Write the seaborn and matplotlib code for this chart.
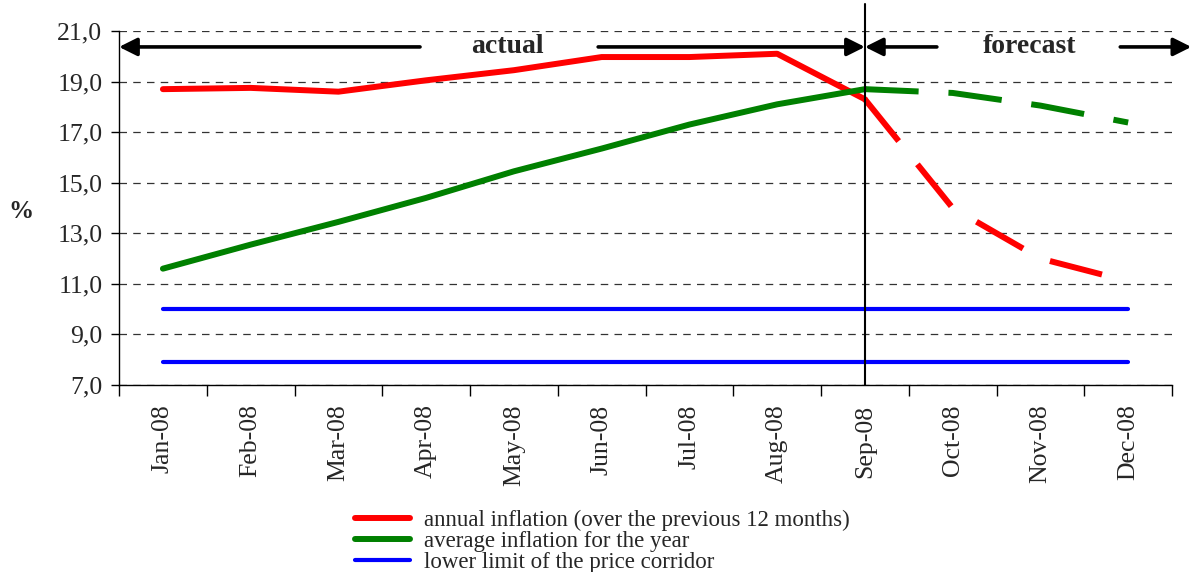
import matplotlib
matplotlib.use("Agg")
import matplotlib.pyplot as plt
from matplotlib.ticker import FuncFormatter, FixedLocator
import seaborn as sns
import pandas as pd
import numpy as np

months = ["Jan-08", "Feb-08", "Mar-08", "Apr-08", "May-08", "Jun-08",
          "Jul-08", "Aug-08", "Sep-08", "Oct-08", "Nov-08", "Dec-08"]
annual_inflation = [18.7, 18.75, 18.6, 19.05, 19.45, 19.97, 19.97, 20.1, 18.3, 14.0, 12.0, 11.1]
average_inflation = [11.6, 12.55, 13.45, 14.4, 15.45, 16.35, 17.3, 18.1, 18.7, 18.55, 18.05, 17.38]
corridor_low = [10.0] * 12
corridor_low2 = [7.9] * 12
last_actual = 8  # index of Sep-08, the last reported month

sns.set_theme(style="white")
plt.rcParams["font.family"] = ["Liberation Serif", "DejaVu Serif"]

df = pd.DataFrame({"pos": np.arange(len(months)), "month": months,
                   "annual": annual_inflation, "average": average_inflation,
                   "low": corridor_low, "low2": corridor_low2})
actual = df[df.pos <= last_actual]
fcst = df[df.pos >= last_actual]

fig = plt.figure(figsize=(11.94, 5.72), dpi=100)
ax = fig.add_axes([0.0997, 0.327, 0.8819, 0.6188])

RED, GREEN, BLUE = "#ff0000", "#008000", "#0000ff"
lw = 4.3
dash = (9, 5)
FS = 18.5

sns.lineplot(data=df, x="pos", y="low", ax=ax, color=BLUE, lw=3.0,
             solid_capstyle="round", label="lower limit of the price corridor")
sns.lineplot(data=df, x="pos", y="low2", ax=ax, color=BLUE, lw=3.0,
             solid_capstyle="round", label="_nolegend_")
sns.lineplot(data=actual, x="pos", y="annual", ax=ax, color=RED, lw=lw,
             solid_capstyle="round", label="annual inflation (over the previous 12 months)")
sns.lineplot(data=actual, x="pos", y="average", ax=ax, color=GREEN, lw=lw,
             solid_capstyle="round", label="average inflation for the year")
sns.lineplot(data=fcst, x="pos", y="annual", ax=ax, color=RED, lw=lw, label="_nolegend_")
ax.lines[-1].set_dashes(dash)
ax.lines[-1].set_dash_capstyle("butt")
sns.lineplot(data=fcst, x="pos", y="average", ax=ax, color=GREEN, lw=lw, label="_nolegend_")
ax.lines[-1].set_dashes(dash)
ax.lines[-1].set_dash_capstyle("butt")

ax.set_xlim(-0.5, len(months) - 0.5)
ax.set_ylim(7, 21)
ax.set_yticks(np.arange(7, 21.1, 2))
ax.yaxis.set_major_formatter(FuncFormatter(lambda v, p: f"{v:.1f}".replace(".", ",")))
ax.set_xticks(np.arange(len(months)))
ax.set_xticklabels(months, rotation=90, fontsize=FS)
ax.xaxis.set_minor_locator(FixedLocator(np.arange(-0.5, len(months), 1)))
ax.tick_params(axis="x", which="major", length=0, pad=14)
ax.tick_params(axis="x", which="minor", length=8, width=1, color="black", direction="out")
ax.tick_params(axis="y", length=6, width=1, color="black", direction="out", labelsize=FS, pad=6)
ax.tick_params(axis="y", which="major", left=True)
ax.tick_params(axis="x", which="minor", bottom=True)
ax.set_xlabel("")
ax.set_ylabel("%", fontsize=18, fontweight="bold", rotation=0, ha="center", va="center")
ax.yaxis.set_label_coords(-0.093, 0.49)

for s in ["top", "right"]:
    ax.spines[s].set_visible(False)
for s in ["left", "bottom"]:
    ax.spines[s].set_color("black")
    ax.spines[s].set_linewidth(1)

ax.grid(axis="y", color="#333333", linestyle=(0, (6, 5)), linewidth=0.9)
ax.set_axisbelow(True)

# boundary between reported and projected months
ax.plot([last_actual, last_actual], [7, 22.05], color="black", lw=1.5, clip_on=False, zorder=5)

# period arrows
ya = 20.37
ap = dict(arrowstyle="-|>,head_length=0.9,head_width=0.45", color="black", lw=2.6,
          shrinkA=0, shrinkB=0)
ax.annotate("", xy=(-0.5, ya), xytext=(2.93, ya), arrowprops=ap, annotation_clip=False)
ax.annotate("", xy=(last_actual, ya), xytext=(4.96, ya), arrowprops=ap, annotation_clip=False)
ax.annotate("", xy=(last_actual, ya), xytext=(8.82, ya), arrowprops=ap, annotation_clip=False)
ax.annotate("", xy=(11.72, ya), xytext=(10.91, ya), arrowprops=ap, annotation_clip=False)
ax.text(3.93, ya, "actual", ha="center", va="center", fontsize=20, fontweight="bold")
ax.text(9.88, ya, "forecast", ha="center", va="center", fontsize=20, fontweight="bold")

handles, labels = ax.get_legend_handles_labels()
ax.get_legend().remove()
order = [labels.index("annual inflation (over the previous 12 months)"),
         labels.index("average inflation for the year"),
         labels.index("lower limit of the price corridor")]
leg = fig.legend([handles[i] for i in order], [labels[i] for i in order],
                 loc="upper left", bbox_to_anchor=(355 / 1194, 1 - 510 / 572),
                 frameon=False, fontsize=16.5, handlelength=2.4, handletextpad=0.6,
                 labelspacing=0.0, borderaxespad=0, borderpad=0)

fig.savefig("out.png", dpi=100)
